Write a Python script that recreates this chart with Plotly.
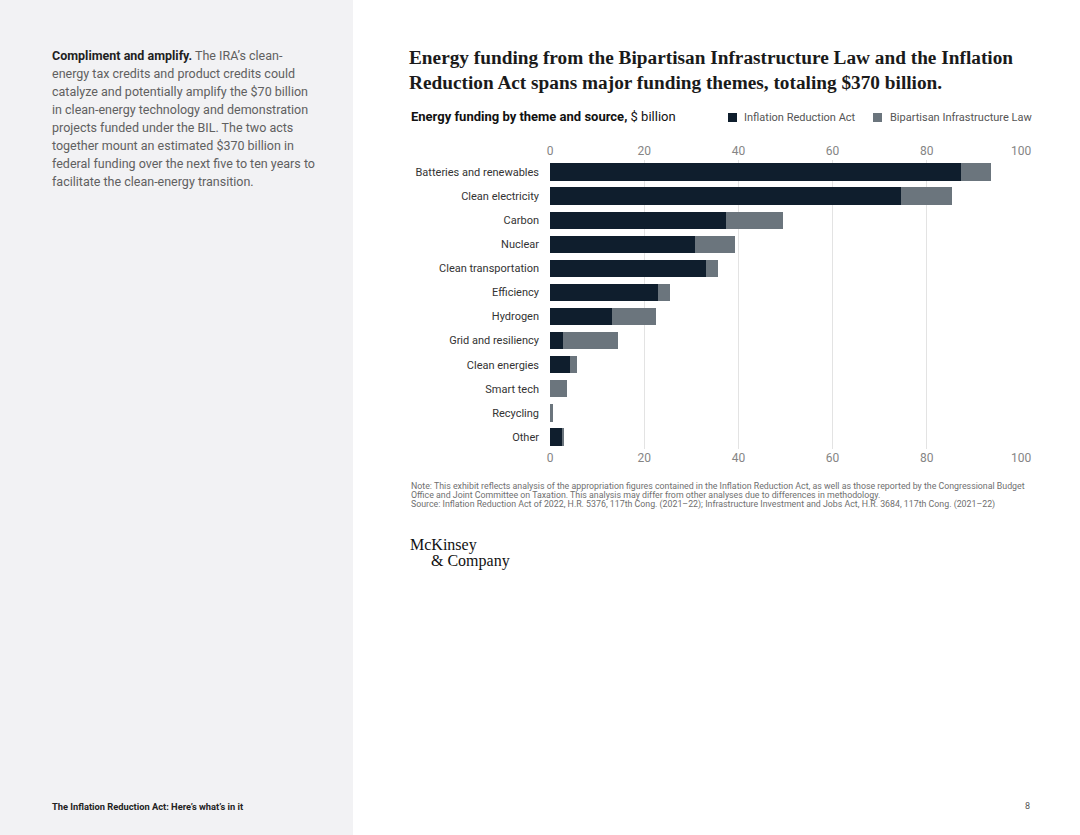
import plotly.graph_objects as go

# ---------------- data ----------------
categories = ["Batteries and renewables", "Clean electricity", "Carbon", "Nuclear",
              "Clean transportation", "Efficiency", "Hydrogen", "Grid and resiliency",
              "Clean energies", "Smart tech", "Recycling", "Other"]
ira = [87.3, 74.5, 37.3, 30.8, 33.2, 23.0, 13.1, 2.8, 4.2, 0.0, 0.0, 2.7]
bil = [6.4, 10.8, 12.1, 8.4, 2.4, 2.4, 9.5, 11.6, 1.6, 3.6, 0.7, 0.2]
series_names = ["Inflation Reduction Act", "Bipartisan Infrastructure Law"]
tick_vals = [0, 20, 40, 60, 80, 100]

left_lines = [
    "<span style='color:#1f1f1f'><b>Compliment and amplify.</b></span> The IRA’s clean-",
    "energy tax credits and product credits could",
    "catalyze and potentially amplify the $70 billion",
    "in clean-energy technology and demonstration",
    "projects funded under the BIL. The two acts",
    "together mount an estimated $370 billion in",
    "federal funding over the next five to ten years to",
    "facilitate the clean-energy transition.",
]
note_lines = [
    "Note: This exhibit reflects analysis of the appropriation figures contained in the Inflation Reduction Act, as well as those reported by the Congressional Budget",
    "Office and Joint Committee on Taxation. This analysis may differ from other analyses due to differences in methodology.",
    "Source: Inflation Reduction Act of 2022, H.R. 5376, 117th Cong. (2021–22); Infrastructure Investment and Jobs Act, H.R. 3684, 117th Cong. (2021–22)",
]

# ---------------- geometry ----------------
W, H = 1080, 835
L, R, T, B = 550, 1021, 160, 449

def px(x):
    return (x - L) / (R - L)

def py(y):
    return (B - y) / (B - T)

DARK = "#0f1e2d"
GREY = "#6b757d"
SANS = "Roboto, Liberation Sans, Arial, sans-serif"
SERIF = "Liberation Serif, Times New Roman, serif"
colors = [DARK, GREY]

fig = go.Figure()
fig.add_trace(go.Bar(y=categories, x=ira, orientation="h", name=series_names[0],
                     marker=dict(color=colors[0], line=dict(width=0)), width=0.72,
                     showlegend=False))
fig.add_trace(go.Bar(y=categories, x=bil, orientation="h", name=series_names[1],
                     marker=dict(color=colors[1], line=dict(width=0)), width=0.72,
                     showlegend=False))
# invisible trace to carry the bottom axis
fig.add_trace(go.Scatter(x=[0, 100], y=[categories[0], categories[0]], xaxis="x2",
                         mode="markers", marker=dict(opacity=0), showlegend=False,
                         hoverinfo="skip"))

axis_common = dict(range=[0, 100], tickvals=tick_vals, showgrid=True, gridcolor="#e3e3e3",
                   gridwidth=1, zeroline=False, showline=False, ticks="", automargin=False,
                   fixedrange=True,
                   tickfont=dict(family=SANS, size=12, color="#858585"))

fig.update_layout(
    width=W, height=H,
    margin=dict(l=L, r=W - R, t=T, b=H - B, pad=0, autoexpand=False),
    paper_bgcolor="white", plot_bgcolor="white",
    barmode="stack",
    xaxis=dict(side="top", ticklabelstandoff=2, **axis_common),
    xaxis2=dict(side="bottom", overlaying="x", anchor="y", **axis_common),
    yaxis=dict(categoryorder="array", categoryarray=categories,
               range=[len(categories) - 0.5, -0.5], automargin=False, fixedrange=True,
               showgrid=False, zeroline=False, showline=False, ticks="",
               ticklabelstandoff=10,
               tickfont=dict(family=SANS, size=11, color="#333333")),
    showlegend=False,
)

# left grey panel
fig.add_shape(type="rect", xref="paper", yref="paper", x0=px(0), x1=px(353),
              y0=py(H), y1=py(0), fillcolor="#f2f2f4", line=dict(width=0), layer="below")

ann = []
# manual legend
legend_pos = [(728, 742), (873, 888)]
for (sx, tx), name, col in zip(legend_pos, series_names, colors):
    fig.add_shape(type="rect", xref="paper", yref="paper", x0=px(sx), x1=px(sx + 9),
                  y0=py(122), y1=py(113), fillcolor=col, line=dict(width=0))
    ann.append(dict(text=name, x=px(tx), y=py(117.5), xref="paper", yref="paper",
                    xanchor="left", yanchor="middle", showarrow=False,
                    font=dict(family=SANS, size=11, color="#555555")))

for i, line in enumerate(left_lines):
    ann.append(dict(text=line, x=px(50), y=py(55 + 18.1 * i), xref="paper", yref="paper",
                    xanchor="left", yanchor="middle", showarrow=False, align="left",
                    font=dict(family=SANS, size=12.5, color="#606060")))

# title
ann.append(dict(text="<b>Energy funding from the Bipartisan Infrastructure Law and the Inflation<br>"
                     "Reduction Act spans major funding themes, totaling $370 billion.</b>",
                x=px(407), y=py(45), xref="paper", yref="paper", xanchor="left", yanchor="top",
                showarrow=False, align="left",
                font=dict(family=SERIF, size=19.3, color="#1a1a1a")))
# subtitle
ann.append(dict(text="<b>Energy funding by theme and source,</b> $ billion",
                x=px(409), y=py(117), xref="paper", yref="paper", xanchor="left",
                yanchor="middle", showarrow=False,
                font=dict(family=SANS, size=13, color="#111111")))
# notes
for i, line in enumerate(note_lines):
    ann.append(dict(text=line, x=px(409), y=py(485.5 + 9.6 * i), xref="paper", yref="paper",
                    xanchor="left", yanchor="middle", showarrow=False,
                    font=dict(family=SANS, size=8.8, color="#6f6f6f")))
# logo
ann.append(dict(text="McKinsey", x=px(408), y=py(545), xref="paper", yref="paper",
                xanchor="left", yanchor="middle", showarrow=False,
                font=dict(family=SERIF, size=16, color="#111111")))
ann.append(dict(text="&amp; Company", x=px(429), y=py(561), xref="paper", yref="paper",
                xanchor="left", yanchor="middle", showarrow=False,
                font=dict(family=SERIF, size=16, color="#111111")))
# footer
ann.append(dict(text="<b>The Inflation Reduction Act: Here’s what’s in it</b>",
                x=px(50), y=py(806), xref="paper", yref="paper", xanchor="left",
                yanchor="middle", showarrow=False,
                font=dict(family=SANS, size=9.3, color="#222222")))
ann.append(dict(text="8", x=px(1032), y=py(806), xref="paper", yref="paper", xanchor="right",
                yanchor="middle", showarrow=False,
                font=dict(family=SANS, size=9, color="#555555")))

fig.update_layout(annotations=ann)
fig.write_html("out.html", config={"displayModeBar": False},
               post_script="document.body.style.margin='0';document.body.style.padding='0';")
